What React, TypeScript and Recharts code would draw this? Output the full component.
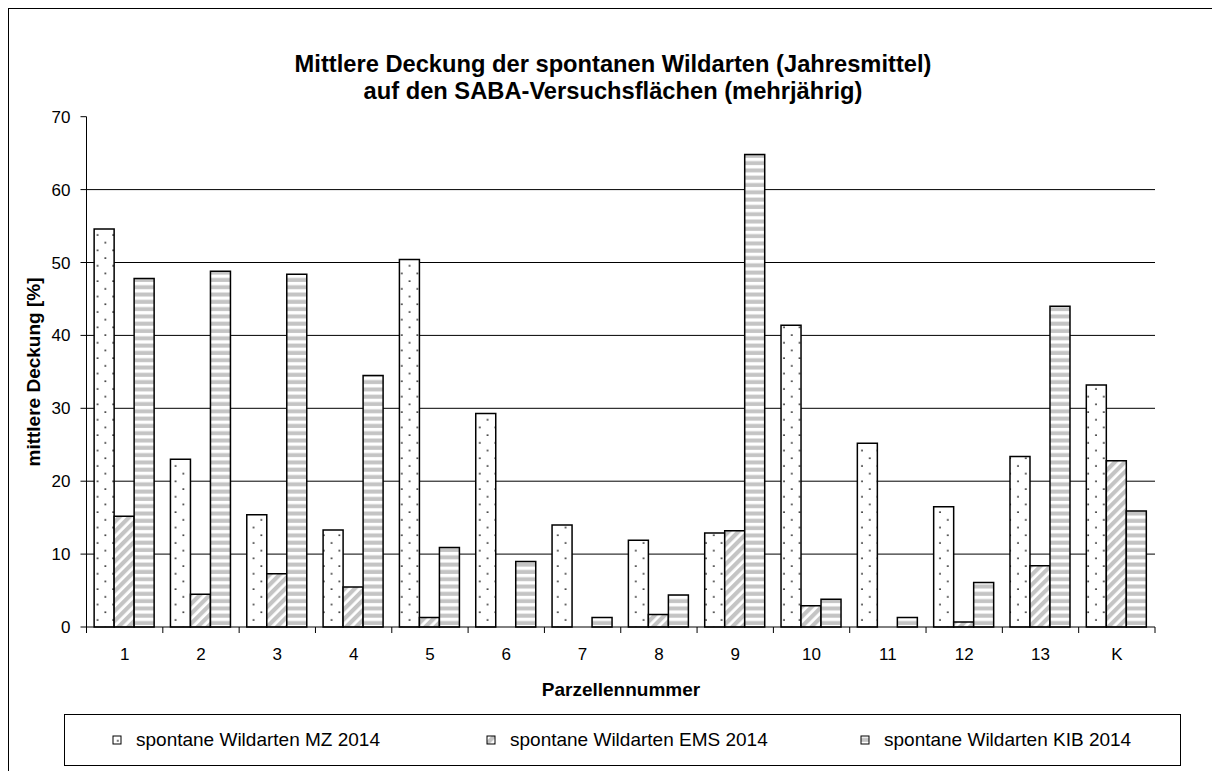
import { BarChart, Bar, XAxis, YAxis, CartesianGrid } from "recharts";

const categories = ["1", "2", "3", "4", "5", "6", "7", "8", "9", "10", "11", "12", "13", "K"];
const mzValues = [54.6, 23.0, 15.4, 13.3, 50.4, 29.3, 14.0, 11.9, 12.9, 41.4, 25.2, 16.5, 23.4, 33.2];
const emsValues = [15.2, 4.5, 7.3, 5.5, 1.3, 0, 0, 1.7, 13.2, 2.9, 0, 0.7, 8.4, 22.8];
const kibValues = [47.8, 48.8, 48.4, 34.5, 10.9, 9.0, 1.3, 4.4, 64.8, 3.8, 1.3, 6.1, 44.0, 15.9];
const yTicks = [0, 10, 20, 30, 40, 50, 60, 70];
const gridValues = [10, 20, 30, 40, 50, 60];

const seriesNames = [
  "spontane Wildarten MZ 2014",
  "spontane Wildarten EMS 2014",
  "spontane Wildarten KIB 2014",
];

const data = categories.map((name, i) => ({
  name,
  mz: mzValues[i],
  ems: emsValues[i],
  kib: kibValues[i],
}));

const W = 1212;
const H = 771;
const FONT = "'Liberation Sans', Arial, sans-serif";
const margin = { top: 116.7, right: 57, left: 0, bottom: 114 };
const Y_AXIS_W = 86.5;
const STEP = (W - margin.left - margin.right - Y_AXIS_W) / categories.length;

// Excel-style fill patterns, prefix keeps ids unique per svg
function Patterns({ prefix, dotX = 0, dotY = 0 }: { prefix: string; dotX?: number; dotY?: number }) {
  return (
    <defs>
      <pattern
        id={`${prefix}-dots`}
        x={dotX}
        y={dotY}
        width="15.6"
        height="15.4"
        patternUnits="userSpaceOnUse"
      >
        <rect width="15.6" height="15.4" fill="#fff" />
        <rect x="3.2" y="3.2" width="1.6" height="1.6" fill="#222" />
        <rect x="11" y="10.9" width="1.6" height="1.6" fill="#222" />
      </pattern>
      <pattern
        id={`${prefix}-diag`}
        width="7"
        height="7"
        patternUnits="userSpaceOnUse"
        patternTransform="rotate(45)"
      >
        <rect width="7" height="7" fill="#fff" />
        <rect width="4.2" height="7" fill="#c4c4c4" />
      </pattern>
      <pattern id={`${prefix}-horiz`} width="7" height="7.3" patternUnits="userSpaceOnUse">
        <rect width="7" height="7.3" fill="#fff" />
        <rect y="0.5" width="7" height="4" fill="#c4c4c4" />
      </pattern>
    </defs>
  );
}

function XTick(props: any) {
  const { x, y, payload, index } = props;
  const last = index === categories.length - 1;
  return (
    <g>
      <line x1={x - STEP / 2} x2={x - STEP / 2} y1={y} y2={y + 6} stroke="#000" />
      {last && <line x1={x + STEP / 2} x2={x + STEP / 2} y1={y} y2={y + 6} stroke="#000" />}
      <text x={x} y={y + 33} textAnchor="middle" fontSize={17} fill="#000" fontFamily={FONT}>
        {payload.value}
      </text>
    </g>
  );
}

const legendFills = ["ov-dots", "ov-diag", "ov-horiz"];
const legendX = [113, 487, 861];

export default function App() {
  return (
    <div style={{ position: "relative", width: W, height: H, overflow: "hidden", background: "#fff" }}>
      <style>{"body{margin:0;overflow:hidden}"}</style>
      <div
        style={{
          position: "absolute",
          left: 8,
          top: 8,
          width: 1300,
          height: 900,
          border: "1px solid #000",
        }}
      />
      <div style={{ position: "absolute", left: 0, top: 0 }}>
        <BarChart
          width={W}
          height={H}
          data={data}
          margin={margin}
          barCategoryGap="10%"
          barGap={0}
          style={{ fontFamily: FONT }}
        >
          <Patterns prefix="ch" />
          <CartesianGrid
            vertical={false}
            horizontalValues={gridValues}
            stroke="#000"
            strokeWidth={1}
          />
          <XAxis
            dataKey="name"
            interval={0}
            axisLine={{ stroke: "#000" }}
            tickLine={false}
            tickSize={0}
            tickMargin={0}
            height={30}
            tick={<XTick />}
          />
          <YAxis
            domain={[0, 70]}
            ticks={yTicks}
            width={Y_AXIS_W}
            axisLine={{ stroke: "#000" }}
            tickLine={{ stroke: "#000" }}
            tickSize={6}
            tickMargin={10}
            tick={{ fontSize: 17, fill: "#000", fontFamily: FONT }}
          />
          <Bar dataKey="mz" fill="url(#ch-dots)" stroke="#000" strokeWidth={1.5} isAnimationActive={false} />
          <Bar dataKey="ems" fill="url(#ch-diag)" stroke="#000" strokeWidth={1.5} isAnimationActive={false} />
          <Bar dataKey="kib" fill="url(#ch-horiz)" stroke="#000" strokeWidth={1.5} isAnimationActive={false} />
        </BarChart>
      </div>
      <svg
        width={W}
        height={H}
        style={{ position: "absolute", left: 0, top: 0, pointerEvents: "none" }}
        fontFamily={FONT}
      >
        <Patterns prefix="ov" dotX={113.8} dotY={736.8} />
        <text x={613} y={72} textAnchor="middle" fontSize={23.7} fontWeight="bold">
          Mittlere Deckung der spontanen Wildarten (Jahresmittel)
        </text>
        <text x={613} y={99} textAnchor="middle" fontSize={23.7} fontWeight="bold">
          auf den SABA-Versuchsflächen (mehrjährig)
        </text>
        <text
          transform="translate(40,372) rotate(-90)"
          textAnchor="middle"
          fontSize={19}
          fontWeight="bold"
        >
          mittlere Deckung [%]
        </text>
        <text x={621} y={696} textAnchor="middle" fontSize={19} fontWeight="bold">
          Parzellennummer
        </text>
        <rect x={64.5} y={714.5} width={1116} height={51} fill="#fff" stroke="#000" />
        {seriesNames.map((name, i) => (
          <g key={name}>
            <rect
              x={legendX[i]}
              y={736}
              width={8}
              height={8}
              fill={`url(#${legendFills[i]})`}
              stroke="#000"
              strokeWidth={1}
            />
            <text x={legendX[i] + 23} y={746} fontSize={19}>
              {name}
            </text>
          </g>
        ))}
      </svg>
    </div>
  );
}
